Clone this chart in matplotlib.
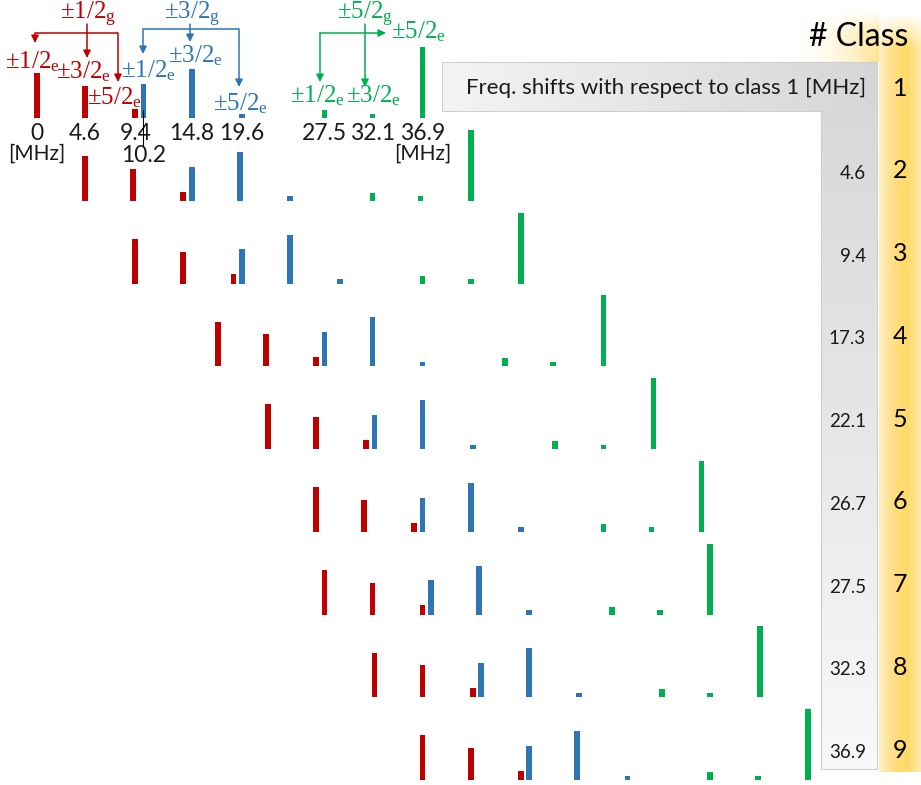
import numpy as np
import matplotlib.pyplot as plt
from matplotlib.colors import LinearSegmentedColormap

plt.rcParams['mathtext.fontset'] = 'custom'
plt.rcParams['mathtext.rm'] = 'Liberation Serif'
plt.rcParams['mathtext.it'] = 'Liberation Serif:italic'

# data
class_no = [1, 2, 3, 4, 5, 6, 7, 8, 9]
class_shift = [0, 4.6, 9.4, 17.3, 22.1, 26.7, 27.5, 32.3, 36.9]
line_freq = [0, 4.6, 9.4, 10.2, 14.8, 19.6, 27.5, 32.1, 36.9]
freq_labels = ['0', '4.6', '9.4', '10.2', '14.8', '19.6', '27.5', '32.1', '36.9']
line_int = [0.63, 0.45, 0.13, 0.48, 0.69, 0.06, 0.11, 0.06, 1.0]
line_grp = ['1/2', '1/2', '1/2', '3/2', '3/2', '3/2', '5/2', '5/2', '5/2']
grp_color = {'1/2': '#c00000', '3/2': '#2e75b6', '5/2': '#00b050'}

# page geometry (pixels)
W, H = 921, 785
X0, SX = 37, 10.45      # px of 0 MHz, px per MHz
Y0, SY = 118, 82.75     # px of class-1 baseline, px per class row


def xd(p):
    return (p - X0) / SX


def yd(p):
    return (Y0 - p) / SY


fig = plt.figure(figsize=(W / 100, H / 100), dpi=100)
ax = fig.add_axes([0, 0, 1, 1])
ax.axis('off')


def gradient(x0, x1, y0, y1, stops, vertical=False, fade_top=0):
    cmap = LinearSegmentedColormap.from_list('g', stops)
    n = 256
    t = np.linspace(0, 1, n)
    rgba = cmap(t)
    if vertical:
        img = rgba[:, None, :].repeat(2, axis=1)
    else:
        img = rgba[None, :, :].repeat(n, axis=0)
    if fade_top:
        a = np.clip(np.linspace(0, (y1 - y0) / fade_top, img.shape[0]), 0, 1)
        img = img.copy()
        img[:, :, 3] = img[:, :, 3] * a[:, None]
    ax.imshow(img, extent=(xd(x0), xd(x1), yd(y1), yd(y0)), aspect='auto',
              interpolation='bilinear', zorder=0)


# gray L-shaped panel
gradient(821, 877, 62, 769, ['#d6d6d6', '#e6e6e6', '#f9f9f9'], vertical=True)
gradient(442, 877, 62, 111, ['#f4f4f4', '#d6d6d6'])
ax.plot([xd(442), xd(877), xd(877), xd(821), xd(821), xd(442), xd(442)],
        [yd(62), yd(62), yd(769), yd(769), yd(111), yd(111), yd(62)],
        color='#cfcfcf', lw=0.8, zorder=1)

# yellow class column and glow behind the heading
gradient(879, 921, 12, 772, ['#fff1c6', '#ffdf85', '#ffd966', '#ffebb0'], fade_top=35)
cm = LinearSegmentedColormap.from_list('y', ['#fff6dc', '#ffe594'])
glow = cm(np.linspace(0, 1, 128))[None, :, :].repeat(64, axis=0)
glow[:, :, 3] = np.linspace(0, 1, 128)[None, :] ** 1.1 * np.clip(np.linspace(0, 2.2, 64), 0, 1)[:, None]
ax.imshow(glow, extent=(xd(798), xd(879), yd(62), yd(12)), aspect='auto',
          interpolation='bilinear', zorder=0)

# spectra, one row per class
for r, s in enumerate(class_shift):
    for f, a, g in zip(line_freq, line_int, line_grp):
        ax.bar(s + f, a * 71 / SY, width=0.55, bottom=-r, color=grp_color[g],
               edgecolor='none', zorder=3)

# frequency labels of class 1
sans = 'Lato'
for f, lab in zip(line_freq, freq_labels):
    y = 162 if lab == '10.2' else 140
    ax.text(f, yd(y), lab, ha='center', va='baseline', family=sans, fontsize=16.5,
            color='#1a1a1a', zorder=4)
for f in [line_freq[0], line_freq[-1]]:
    ax.text(f, yd(160), '[MHz]', ha='center', va='baseline', family=sans,
            fontsize=15, color='#1a1a1a', zorder=4)
ax.plot([xd(143), xd(143)], [yd(110), yd(146)], color='black', lw=0.8, zorder=4)


# level labels and arrows
def sym(j, s):
    return '\u00b1' + j + r'$_\mathrm{' + s + '}$'


serif = dict(family='Liberation Serif', fontsize=18, ha='center', va='baseline', zorder=4)
labels = [
    ('1/2', 'g', 88, 19, '1/2'), ('1/2', 'e', 33, 68, '1/2'), ('3/2', 'e', 84, 78, '1/2'),
    ('5/2', 'e', 115, 104, '1/2'),
    ('3/2', 'g', 192, 19, '3/2'), ('1/2', 'e', 149, 77, '3/2'), ('3/2', 'e', 196, 62, '3/2'),
    ('5/2', 'e', 241, 110, '3/2'),
    ('5/2', 'g', 365, 19, '5/2'), ('5/2', 'e', 419, 38, '5/2'), ('1/2', 'e', 318, 102, '5/2'),
    ('3/2', 'e', 374, 102, '5/2'),
]
for j, s, x, y, g in labels:
    ax.text(xd(x), yd(y), sym(j, s), color=grp_color[g], **serif)


def line(pts, c):
    ax.plot([xd(p[0]) for p in pts], [yd(p[1]) for p in pts], color=c, lw=1.1,
            zorder=4, solid_capstyle='butt')


def arrow(x, y, x2, y2, c):
    ax.annotate('', xy=(xd(x2), yd(y2)), xytext=(xd(x), yd(y)),
                arrowprops=dict(arrowstyle='-|>', color=c, lw=1.1, shrinkA=0,
                                shrinkB=0, mutation_scale=11), zorder=4)


c = grp_color['1/2']
arrow(87, 24, 87, 58, c)
line([(35, 33), (118, 33)], c)
arrow(35, 33, 35, 43, c)
arrow(118, 33, 118, 82, c)

c = grp_color['3/2']
arrow(190, 24, 190, 42, c)
line([(143, 29), (239, 29)], c)
arrow(143, 29, 143, 54, c)
arrow(239, 29, 239, 87, c)

c = grp_color['5/2']
arrow(365, 24, 365, 87, c)
arrow(320, 33, 386, 33, c)
arrow(320, 33, 320, 82, c)

# panel texts
ax.text(xd(866), yd(88), 'Freq. shifts with respect to class 1 [MHz]', ha='right',
        va='center', family=sans, fontsize=16, color='#1a1a1a', zorder=4)
ax.text(xd(859), yd(37), '# Class', ha='center', va='center', family=sans,
        fontsize=23, color='black', zorder=4)
for r, (n, s) in enumerate(zip(class_no, class_shift)):
    ax.text(xd(900), -r + 0.36, str(n), ha='center', va='center', family=sans,
            fontsize=18, color='black', zorder=4)
    if r > 0:
        ax.text(xd(866), -r + 0.33, f'{s:g}', ha='right', va='center', family=sans,
                fontsize=13.5, color='#1a1a1a', zorder=4)

ax.set_xlim(xd(0), xd(W))
ax.set_ylim(yd(H), yd(0))

fig.savefig('out.png', dpi=100, facecolor='white')
